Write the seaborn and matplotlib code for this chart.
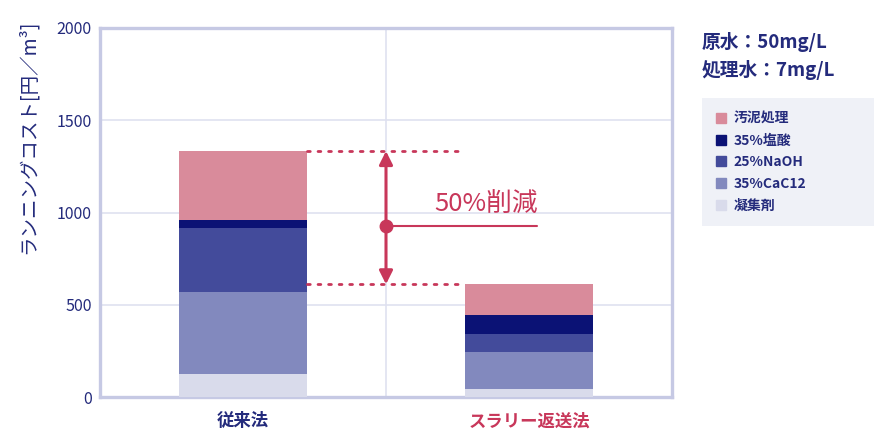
import numpy as np
import pandas as pd
import seaborn as sns
import matplotlib
matplotlib.use("Agg")
import matplotlib.pyplot as plt
from matplotlib.lines import Line2D

# data (円/m3)
methods = ["従来法", "スラリー返送法"]
components = ["汚泥処理", "35%塩酸", "25%NaOH", "35%CaC12", "凝集剤"]
sludge = [371, 168]
hcl = [48, 103]
naoh = [343, 94]
cacl2 = [448, 203]
coagulant = [123, 43]
yticks = [0, 500, 1000, 1500, 2000]

colors = ["#d98b9b", "#0b1275", "#434b9b", "#8289be", "#d9dbeb"]
NAVY = "#242b7c"
RED = "#c8375a"

sns.set_theme(style="white")
plt.rcParams["font.family"] = ["Noto Sans CJK JP", "DejaVu Sans"]

df = pd.DataFrame({"method": methods, "汚泥処理": sludge, "35%塩酸": hcl,
                   "25%NaOH": naoh, "35%CaC12": cacl2, "凝集剤": coagulant})

fig = plt.figure(figsize=(8.9, 4.45), dpi=100)
ax = fig.add_axes([100 / 890, 48 / 445, 572 / 890, 369 / 445])

# stacked bars: draw cumulative heights, tallest first
order = components[::-1]  # bottom -> top
cum = df[order].cumsum(axis=1)
for comp, col in zip(components, colors):
    sns.barplot(x=df["method"], y=cum[comp], color=col, width=0.45,
                saturation=1, linewidth=0, edgecolor="none", ax=ax, zorder=3)

ax.set_ylim(0, 2000)
ax.set_xlim(-0.5, 1.5)
ax.set_yticks(yticks)
ax.set_xlabel("")
ax.set_ylabel("")

# grid
for v in yticks[1:-1]:
    ax.axhline(v, color="#dfe1f0", lw=1.2, zorder=1)
ax.axvline(0.5, color="#dfe1f0", lw=1.2, zorder=1)

for s in ax.spines.values():
    s.set_color("#c6c9e4")
    s.set_linewidth(2.4)
    s.set_zorder(2)

ax.tick_params(axis="both", length=0, colors=NAVY)
ax.tick_params(axis="y", pad=6, labelsize=11.5)
ax.tick_params(axis="x", pad=11, labelsize=12.5)
for lbl, c in zip(ax.get_xticklabels(), [NAVY, RED]):
    lbl.set_color(c)
    lbl.set_fontweight("bold")

# reduction annotation
total = df[components].sum(axis=1).values
for t in total:
    ax.plot([0.225, 0.775], [t, t], color=RED, lw=2, ls=(0, (1, 2.8)),
            dash_capstyle="round", zorder=4)
ax.annotate("", xy=(0.5, total[0]), xytext=(0.5, total[1]),
            arrowprops=dict(arrowstyle="<|-|>", color=RED, lw=2.2,
                            mutation_scale=20, shrinkA=0, shrinkB=0), zorder=5)
mid_y = 926
ax.plot([0.5, 1.028], [mid_y, mid_y], color=RED, lw=1.5, zorder=5)
ax.plot(0.5, mid_y, "o", color=RED, ms=9, zorder=6)
ax.text(1.031, mid_y + 42, "50%削減", color=RED, fontsize=18.5, ha="right",
        va="bottom", zorder=6)

# y label
fig.text(28 / 890, 1 - 137 / 445, "ランニングコスト[円／m³]", rotation=90,
         ha="center", va="center", color=NAVY, fontsize=14)

# conditions
fig.text(702 / 890, 1 - 42 / 445, "原水：50mg/L", color=NAVY, fontsize=13.5,
         fontweight="bold", ha="left", va="center")
fig.text(702 / 890, 1 - 70 / 445, "処理水：7mg/L", color=NAVY, fontsize=13.5,
         fontweight="bold", ha="left", va="center")

handles = [Line2D([], [], ls="", marker="s", ms=7, color=c) for c in colors]
leg = fig.legend(handles, components, loc="upper left", mode="expand",
                 bbox_to_anchor=(702 / 890, 1 - 226 / 445, 172 / 890, 128 / 445),
                 frameon=True, fontsize=10, handlelength=0.8, handletextpad=0.45,
                 labelspacing=0.55, borderpad=1.0, borderaxespad=0)
leg.get_frame().set_facecolor("#eceef6")
leg.get_frame().set_edgecolor("none")
leg.get_frame().set_boxstyle("square", pad=0)
for t in leg.get_texts():
    t.set_color(NAVY)
    t.set_fontweight("bold")

fig.savefig("out.png", dpi=100)
